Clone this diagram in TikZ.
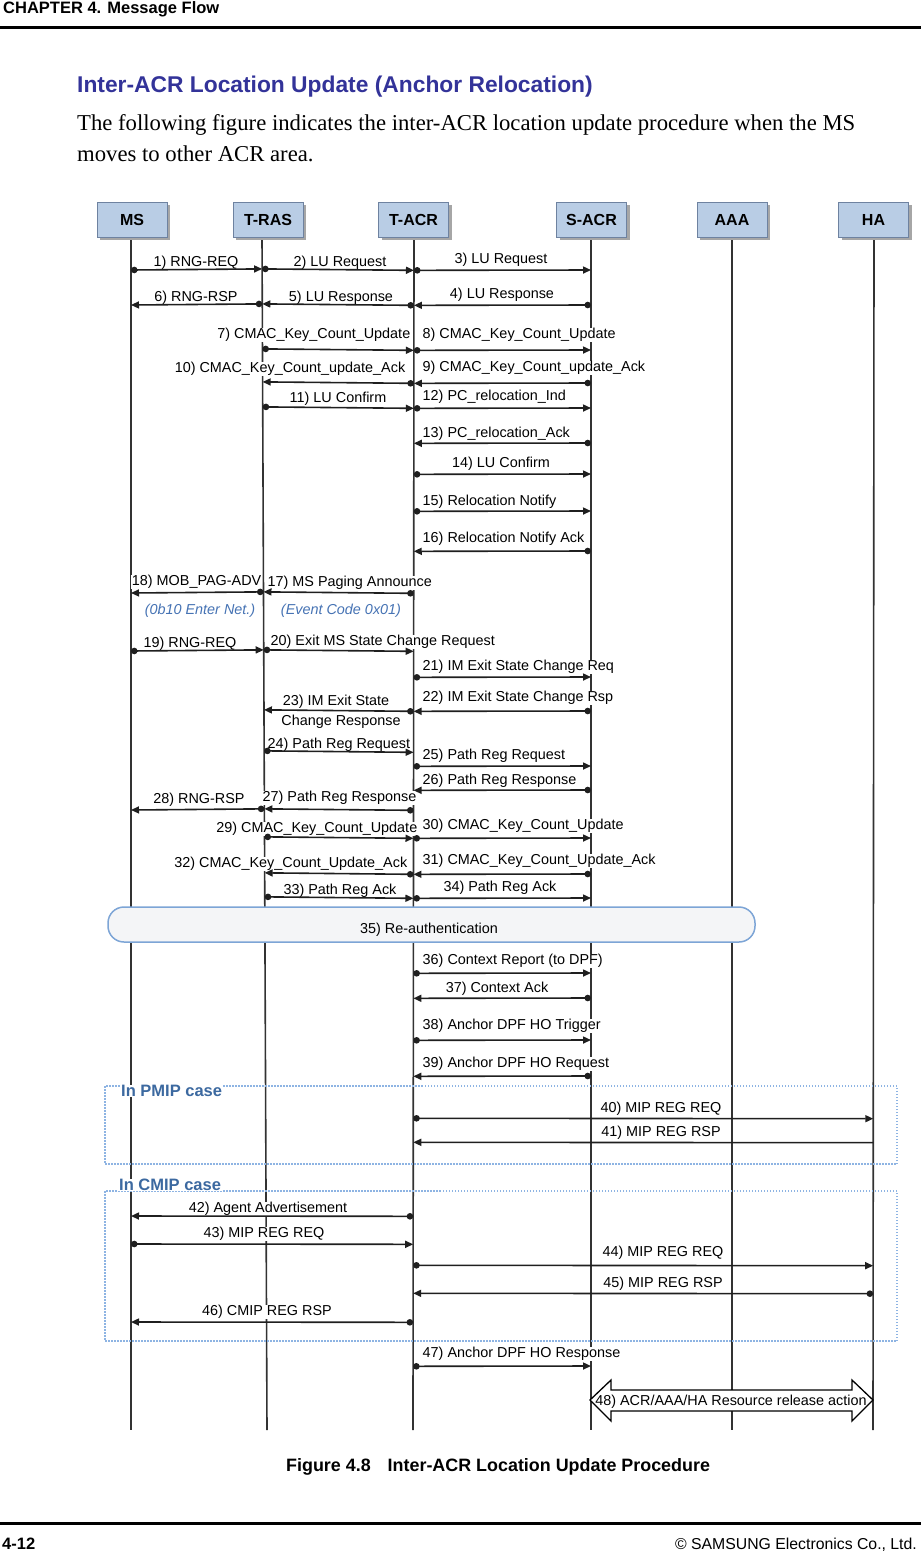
\documentclass[tikz,border=0pt]{standalone}
\usepackage{fontspec}
\setmainfont{Liberation Sans}
\newfontfamily\bodyserif{Liberation Serif}
\usetikzlibrary{calc,arrows.meta,shadows}
\definecolor{titleblue}{RGB}{51,51,153}
\definecolor{entfill}{RGB}{185,205,229}
\definecolor{entdraw}{RGB}{110,130,160}
\definecolor{caseblue}{RGB}{60,105,160}
\definecolor{italblue}{RGB}{70,115,180}
\definecolor{dotblue}{RGB}{142,180,227}
\definecolor{authdraw}{RGB}{125,165,214}
\definecolor{authfill}{RGB}{244,245,247}
\definecolor{lifegray}{RGB}{50,50,50}
\newcommand\seqmsg[4]{\draw[#4] ($(#1-t)!(0,#3)!(#1-b)$) -- ($(#2-t)!(0,#3)!(#2-b)$);}
\begin{document}
\begin{tikzpicture}[x=1pt,y=-1pt,
  entity/.style={draw=entdraw, line width=0.8pt, fill=entfill, minimum width=70pt, minimum height=35pt, inner sep=0pt,
     font=\fontsize{16}{18}\selectfont\bfseries,
     drop shadow={shadow xshift=3pt, shadow yshift=-3pt, fill=black!35, opacity=1}},
  lifeline/.style={draw=lifegray, line width=1.6pt},
  lbl/.style={fill=white, inner xsep=0.5pt, inner ysep=0pt, text height=10.5pt, text depth=3pt, yshift=-2pt, font=\fontsize{14.4}{16}\selectfont},
  ilbl/.style={lbl, font=\fontsize{14.4}{16}\selectfont\itshape, text=italblue},
  msg/.style={draw=black!88, line width=1.6pt, {Circle[length=6.5pt]}-{Triangle[length=8pt,width=7pt]}},
  msgnd/.style={draw=black!88, line width=1.6pt, -{Triangle[length=8pt,width=7pt]}},
  casebox/.style={draw=dotblue, line width=1.5pt, dash pattern=on 1.5pt off 1.5pt, inner sep=0pt},
  caselbl/.style={fill=white, inner xsep=1pt, inner ysep=0pt, font=\fontsize{16.5}{18}\selectfont\bfseries, text=caseblue},
  authbox/.style={draw=authdraw, line width=1.5pt, fill=authfill, rounded corners=16pt, inner sep=0pt}
]
\useasboundingbox (0,0) rectangle (921,1551);

% page header
\node[anchor=base west, inner sep=0pt, font=\fontsize{16.5}{18}\selectfont\bfseries] (hdr) at (3,13) {CHAPTER 4. Message Flow};
\coordinate (hrl) at (0,27); \coordinate (hrr) at (921,27);
\draw[line width=3pt] (hrl) -- (hrr);
\node[anchor=base west, inner sep=0pt, font=\fontsize{22.8}{26}\selectfont\bfseries, text=titleblue] (title) at (77,92) {Inter-ACR Location Update (Anchor Relocation)};
\node[anchor=base west, inner sep=0pt, font=\bodyserif\fontsize{22.7}{30}\selectfont] (body1) at (77,130) {The following figure indicates the inter-ACR location update procedure when the MS};
\node[anchor=base west, inner sep=0pt, font=\bodyserif\fontsize{22.7}{30}\selectfont] (body2) at (77,161) {moves to other ACR area.};

% lifelines
\coordinate (ms-t) at (131,237);   \coordinate (ms-b) at (131,1430);
\coordinate (tras-t) at (262,237); \coordinate (tras-b) at (267,1430);
\coordinate (tacr-t) at (414,237); \coordinate (tacr-b) at (413,1430);
\coordinate (sacr-t) at (591,237); \coordinate (sacr-b) at (591,1430);
\coordinate (aaa-t) at (732,237);  \coordinate (aaa-b) at (732,1430);
\coordinate (ha-t) at (874,237);   \coordinate (ha-b) at (873,1430);
\foreach \l in {ms,tras,tacr,sacr,aaa,ha} \draw[lifeline] (\l-t) -- (\l-b);

% entities
\node[entity] (ms) at (132,219.5) {MS};
\node[entity] (tras) at (268,219.5) {T-RAS};
\node[entity] (tacr) at (413.5,219.5) {T-ACR};
\node[entity] (sacr) at (591.5,219.5) {S-ACR};
\node[entity] (aaa) at (732,219.5) {AAA};
\node[entity] (ha) at (873.5,219.5) {HA};

% labels
\node[lbl] (l1) at (196,261) {1) RNG-REQ};
\node[lbl] (l2) at (340,261) {2) LU Request};
\node[lbl] (l3) at (501,258) {3) LU Request};
\node[lbl] (l4) at (502,293) {4) LU Response};
\node[lbl] (l5) at (341,296) {5) LU Response};
\node[lbl] (l6) at (196,296) {6) RNG-RSP};
\node[lbl, anchor=east] (l7) at (411,333) {7) CMAC\_Key\_Count\_Update};
\node[lbl, anchor=west] (l8) at (422,333) {8) CMAC\_Key\_Count\_Update};
\node[lbl, anchor=west] (l9) at (422,366) {9) CMAC\_Key\_Count\_update\_Ack};
\node[lbl, anchor=east] (l10) at (406,367) {10) CMAC\_Key\_Count\_update\_Ack};
\node[lbl] (l11) at (338,397) {11) LU Confirm};
\node[lbl, anchor=west] (l12) at (422,395) {12) PC\_relocation\_Ind};
\node[lbl, anchor=west] (l13) at (422,432) {13) PC\_relocation\_Ack};
\node[lbl] (l14) at (501,462) {14) LU Confirm};
\node[lbl, anchor=west] (l15) at (422,500) {15) Relocation Notify};
\node[lbl, anchor=west] (l16) at (422,537) {16) Relocation Notify Ack};
\node[lbl, anchor=west] (l17) at (267,581) {17) MS Paging Announce};
\node[lbl, anchor=east] (l18) at (262,580) {18) MOB\_PAG-ADV};
\node[ilbl] (l18i) at (200,609) {(0b10 Enter Net.)};
\node[ilbl] (l17i) at (341,609) {(Event Code 0x01)};
\node[lbl] (l19) at (190,642) {19) RNG-REQ};
\node[lbl, anchor=west] (l20) at (270,640) {20) Exit MS State Change Request};
\node[lbl, anchor=west] (l21) at (422,665) {21) IM Exit State Change Req};
\node[lbl, anchor=west] (l22) at (422,696) {22) IM Exit State Change Rsp};
\node[lbl] (l23a) at (336,700) {23) IM Exit State};
\node[lbl] (l23b) at (341,720) {Change Response};
\node[lbl, anchor=west] (l24) at (267,743) {24) Path Reg Request};
\node[lbl, anchor=west] (l25) at (422,754) {25) Path Reg Request};
\node[lbl, anchor=west] (l26) at (422,779) {26) Path Reg Response};
\node[lbl, anchor=west] (l27) at (262,796) {27) Path Reg Response};
\node[lbl] (l28) at (199,798) {28) RNG-RSP};
\node[lbl, anchor=east] (l29) at (418,827) {29) CMAC\_Key\_Count\_Update};
\node[lbl, anchor=west] (l30) at (422,824) {30) CMAC\_Key\_Count\_Update};
\node[lbl, anchor=west] (l31) at (422,859) {31) CMAC\_Key\_Count\_Update\_Ack};
\node[lbl, anchor=east] (l32) at (408,862) {32) CMAC\_Key\_Count\_Update\_Ack};
\node[lbl] (l33) at (340,889) {33) Path Reg Ack};
\node[lbl] (l34) at (500,886) {34) Path Reg Ack};
\node[lbl, anchor=west] (l36) at (422,959) {36) Context Report (to DPF)};
\node[lbl] (l37) at (497,987) {37) Context Ack};
\node[lbl, anchor=west] (l38) at (422,1024) {38) Anchor DPF HO Trigger};
\node[lbl, anchor=west] (l39) at (422,1062) {39) Anchor DPF HO Request};
\node[lbl] (l40) at (661,1107) {40) MIP REG REQ};
\node[lbl] (l41) at (661,1131) {41) MIP REG RSP};
\node[lbl] (l42) at (268,1207) {42) Agent Advertisement};
\node[lbl] (l43) at (264,1232) {43) MIP REG REQ};
\node[lbl] (l44) at (663,1251) {44) MIP REG REQ};
\node[lbl] (l45) at (663,1282) {45) MIP REG RSP};
\node[lbl] (l46) at (267,1310) {46) CMIP REG RSP};
\node[lbl, anchor=west] (l47) at (422,1352) {47) Anchor DPF HO Response};

% messages
\seqmsg{ms}{tras}{270}{msg}
\seqmsg{tras}{tacr}{270}{msg}
\seqmsg{tacr}{sacr}{270}{msg}
\seqmsg{sacr}{tacr}{305}{msg}
\seqmsg{tacr}{tras}{305}{msg}
\seqmsg{tras}{ms}{305}{msg}
\seqmsg{tras}{tacr}{350}{msg}
\seqmsg{tacr}{sacr}{350}{msg}
\seqmsg{sacr}{tacr}{383}{msg}
\seqmsg{tacr}{tras}{383}{msg}
\seqmsg{tras}{tacr}{408}{msg}
\seqmsg{tacr}{sacr}{408}{msg}
\seqmsg{sacr}{tacr}{443}{msg}
\seqmsg{tacr}{sacr}{474}{msg}
\seqmsg{tacr}{sacr}{511}{msg}
\seqmsg{sacr}{tacr}{551}{msg}
\seqmsg{tacr}{tras}{593}{msg}
\seqmsg{tras}{ms}{593}{msg}
\seqmsg{ms}{tras}{651}{msg}
\seqmsg{tras}{tacr}{651}{msg}
\seqmsg{tacr}{sacr}{677}{msg}
\seqmsg{sacr}{tacr}{711}{msg}
\seqmsg{tacr}{tras}{711}{msg}
\seqmsg{tras}{tacr}{752}{msg}
\seqmsg{tacr}{sacr}{766}{msg}
\seqmsg{sacr}{tacr}{790}{msg}
\seqmsg{tacr}{tras}{810}{msg}
\seqmsg{tras}{ms}{810}{msg}
\seqmsg{tras}{tacr}{838}{msg}
\seqmsg{tacr}{sacr}{838}{msg}
\seqmsg{sacr}{tacr}{874}{msg}
\seqmsg{tacr}{tras}{874}{msg}
\seqmsg{tras}{tacr}{898}{msg}
\seqmsg{tacr}{sacr}{898}{msg}
\seqmsg{tacr}{sacr}{973}{msg}
\seqmsg{sacr}{tacr}{998}{msg}
\seqmsg{tacr}{sacr}{1040}{msg}
\seqmsg{sacr}{tacr}{1076}{msg}
\seqmsg{tacr}{ha}{1118}{msg}
\seqmsg{ha}{tacr}{1142}{msgnd}
\seqmsg{tacr}{ms}{1216}{msg}
\seqmsg{ms}{tacr}{1244}{msg}
\seqmsg{tacr}{ha}{1265}{msg}
\seqmsg{ha}{tacr}{1293}{msg}
\seqmsg{tacr}{ms}{1322}{msg}
\seqmsg{tacr}{sacr}{1366}{msg}

% re-authentication
\node[authbox, minimum width=647pt, minimum height=35pt] (auth) at (431.5,924.5) {};
\node[inner sep=0pt, text height=10.5pt, text depth=3pt, font=\fontsize{14.4}{16}\selectfont] (l35) at (429,930) {35) Re-authentication};

% PMIP / CMIP cases
\node[casebox, minimum width=792pt, minimum height=78pt] (pmip) at (501,1125) {};
\node[caselbl, anchor=west] (pmipl) at (120,1091) {In PMIP case};
\node[casebox, minimum width=792pt, minimum height=150pt] (cmip) at (501,1266) {};
\node[caselbl, anchor=west] (cmipl) at (118,1185) {In CMIP case};

% resource release
\draw[line width=1.3pt, fill=white] (590,1400) -- (611,1380) -- (611,1390) -- (852,1390) -- (852,1380)
  -- (873,1400) -- (852,1421) -- (852,1411) -- (611,1411) -- (611,1421) -- cycle;
\node[inner sep=0pt, font=\fontsize{14.4}{16}\selectfont] (l48) at (731,1402) {48) ACR/AAA/HA Resource release action};

% caption and footer
\node[anchor=base west, inner sep=0pt, font=\fontsize{17.9}{20}\selectfont\bfseries] (cap) at (286,1471) {Figure 4.8\hspace{17pt}Inter-ACR Location Update Procedure};
\coordinate (frl) at (0,1523); \coordinate (frr) at (921,1523);
\draw[line width=3pt] (frl) -- (frr);
\node[anchor=base west, inner sep=0pt, font=\fontsize{16.5}{18}\selectfont\bfseries] (pg) at (2,1549) {4-12};
\node[anchor=base east, inner sep=0pt, font=\fontsize{15.8}{18}\selectfont] (copy) at (917,1549) {© SAMSUNG Electronics Co., Ltd.};
\end{tikzpicture}
\end{document}
